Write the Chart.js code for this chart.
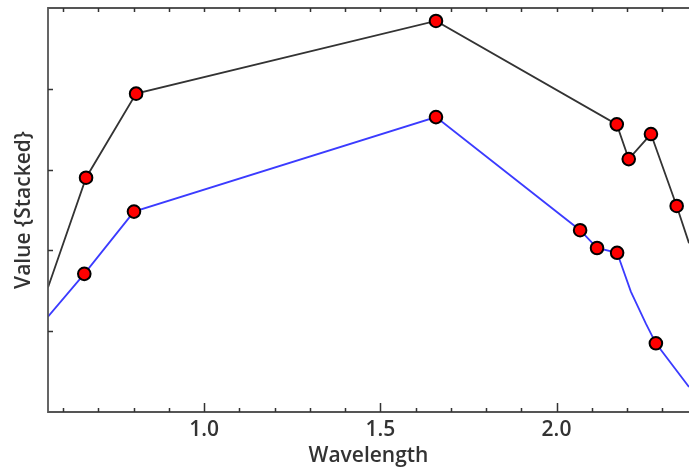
<!DOCTYPE html>
<html>
<head>
<meta charset="utf-8">
<script src="https://cdn.jsdelivr.net/npm/chart.js@4/dist/chart.umd.min.js"></script>
<style>
  body { margin: 0; background: #fff; }
  #wrap { width: 689px; height: 472px; }
</style>
</head>
<body>
<div id="wrap"><canvas id="myChart" width="689" height="472"></canvas></div>
<script>
// values
var blackX = [0.557, 0.665, 0.807, 1.658, 2.171, 2.205, 2.268, 2.341, 2.376];
var blackY = [1.54, 2.90, 3.94, 4.84, 3.56, 3.13, 3.44, 2.55, 2.09];
var blackMarked = [false, true, true, true, true, true, true, true, false];

var blueX = [0.557, 0.660, 0.801, 1.658, 2.067, 2.115, 2.172, 2.211, 2.254, 2.282, 2.376];
var blueY = [1.18, 1.71, 2.48, 3.65, 2.25, 2.03, 1.97, 1.49, 1.09, 0.85, 0.31];
var blueMarked = [false, true, true, true, true, true, true, false, false, true, false];

var xMin = 0.557, xMax = 2.376;
var yMin = 0, yMax = 5;
var xTickLabels = [1.0, 1.5, 2.0];
var xMinorTicks = [0.6, 0.7, 0.8, 0.9, 1.0, 1.1, 1.2, 1.3, 1.4, 1.5, 1.6, 1.7, 1.8, 1.9, 2.0, 2.1, 2.2, 2.3];
var yTicks = [1, 2, 3, 4];

function toPoints(xs, ys) {
  var pts = [];
  for (var i = 0; i < xs.length; i++) pts.push({x: xs[i], y: ys[i]});
  return pts;
}
function radii(marked) {
  return marked.map(function (m) { return m ? 6.3 : 0; });
}

// draws the axis frame with inward ticks
var framePlugin = {
  id: 'frame',
  afterDraw: function (chart) {
    var c = chart.ctx, a = chart.chartArea;
    var xs = chart.scales.x, ys = chart.scales.y;
    c.save();
    c.strokeStyle = '#555';
    c.lineWidth = 1.8;
    c.beginPath();
    c.moveTo(a.right, a.top); c.lineTo(a.left, a.top);
    c.lineTo(a.left, a.bottom); c.lineTo(a.right, a.bottom);
    c.stroke();
    c.lineWidth = 1.5;
    c.strokeStyle = '#333';
    c.beginPath();
    xMinorTicks.forEach(function (v) {
      var px = Math.round(xs.getPixelForValue(v)) + 0.5;
      var major = xTickLabels.some(function (t) { return Math.abs(t - v) < 1e-6; });
      c.moveTo(px, a.bottom); c.lineTo(px, a.bottom - (major ? 9 : 4));
      c.moveTo(px, a.top); c.lineTo(px, a.top + 4);
    });
    yTicks.forEach(function (v) {
      var py = Math.round(ys.getPixelForValue(v)) + 0.5;
      c.moveTo(a.left, py); c.lineTo(a.left + 5, py);
    });
    c.stroke();
    c.restore();
  }
};

var ctx = document.getElementById('myChart').getContext('2d');
var myChart = new Chart(ctx, {
  type: 'line',
  data: {
    datasets: [
      {
        label: 'upper',
        data: toPoints(blackX, blackY),
        borderColor: '#333',
        borderWidth: 1.8,
        pointRadius: radii(blackMarked),
        pointBackgroundColor: '#ff0000',
        pointBorderColor: '#000',
        pointBorderWidth: 2,
        tension: 0
      },
      {
        label: 'lower',
        data: toPoints(blueX, blueY),
        borderColor: '#3b3bff',
        borderWidth: 1.8,
        pointRadius: radii(blueMarked),
        pointBackgroundColor: '#ff0000',
        pointBorderColor: '#000',
        pointBorderWidth: 2,
        tension: 0
      }
    ]
  },
  options: {
    responsive: false,
    animation: false,
    layout: { padding: { top: 8, right: 0, left: 0, bottom: 0 } },
    plugins: { legend: { display: false }, tooltip: { enabled: false } },
    scales: {
      x: {
        type: 'linear',
        min: xMin, max: xMax,
        grid: { display: false, drawTicks: false },
        border: { display: false },
        afterBuildTicks: function (scale) {
          scale.ticks = xTickLabels.map(function (v) { return {value: v}; });
        },
        afterFit: function (scale) { scale.height = 60; },
        ticks: {
          autoSkip: false, maxRotation: 0, padding: 5,
          color: '#333',
          font: { family: 'Open Sans', size: 21, weight: '600' },
          callback: function (v) { return Number(v).toFixed(1); }
        },
        title: {
          display: true, text: 'Wavelength', color: '#333',
          font: { family: 'Open Sans', size: 21, weight: '600' },
          padding: { top: 0, bottom: 3 }
        }
      },
      y: {
        min: yMin, max: yMax,
        grid: { display: false, drawTicks: false },
        border: { display: false },
        ticks: { display: false, stepSize: 1 },
        afterFit: function (scale) { scale.width = 48; },
        title: {
          display: true, text: 'Value {Stacked}', color: '#333',
          font: { family: 'Open Sans', size: 21, weight: '600' },
          padding: { top: 11, bottom: 0 }
        }
      }
    }
  },
  plugins: [framePlugin]
});
</script>
</body>
</html>
